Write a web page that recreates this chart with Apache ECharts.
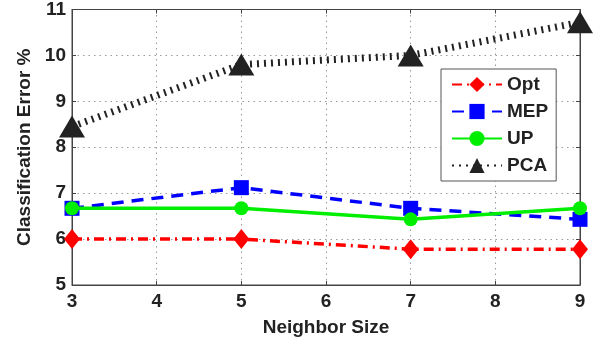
<!DOCTYPE html>
<html><head><meta charset="utf-8">
<script src="https://cdn.jsdelivr.net/npm/echarts@6/dist/echarts.min.js"></script>
<style>html,body{margin:0;padding:0;background:#fff}#c{width:607px;height:342px}</style>
</head><body><div id="c"></div>
<script>
const xValues = [3, 5, 7, 9];
const opt = [6.0, 6.0, 5.78, 5.78];
const mep = [6.67, 7.12, 6.67, 6.43];
const up = [6.67, 6.67, 6.43, 6.67];
const pca = [8.45, 9.8, 10.0, 10.72];
const xTicks = [3, 4, 5, 6, 7, 8, 9];
const yTicks = [5, 6, 7, 8, 9, 10, 11];

const pair = arr => xValues.map((x, i) => [x, arr[i]]);
const font = 'Liberation Sans, Arial, sans-serif';
const chart = echarts.init(document.getElementById('c'));
const labelStyle = {fontFamily: font, fontWeight: 'bold', fontSize: 19, color: '#222'};
const titleStyle = {fontFamily: font, fontWeight: 'bold', fontSize: 19, color: '#222'};
chart.setOption({
  animation: false,
  grid: {left: 72, right: 27, top: 7, bottom: 56, show: true, borderColor: '#444', borderWidth: 1},
  legend: {
    left: 441, top: 69, width: 119, orient: 'vertical',
    backgroundColor: '#fff', borderColor: '#555', borderWidth: 1,
    padding: [6, 8, 6, 10], itemGap: 8, itemWidth: 50, itemHeight: 19,
    textStyle: {fontFamily: font, fontWeight: 'bold', fontSize: 19, color: '#222'},
    data: ['Opt', 'MEP', 'UP', 'PCA']
  },
  xAxis: [{
    type: 'value', min: 3, max: 9, interval: 1,
    name: 'Neighbor Size', nameLocation: 'middle', nameGap: 33,
    nameTextStyle: titleStyle,
    axisLine: {show: true, lineStyle: {color: '#444'}},
    axisTick: {show: true, inside: true, length: 4, lineStyle: {color: '#444'}},
    axisLabel: Object.assign({margin: 7, formatter: v => xTicks.includes(v) ? String(v) : ''}, labelStyle),
    splitLine: {show: true, lineStyle: {type: [1.5, 4], color: '#999'}}
  }, {
    type: 'value', min: 3, max: 9, interval: 1, position: 'top',
    axisLine: {show: true, lineStyle: {color: '#444'}},
    axisTick: {show: true, inside: true, length: 4, lineStyle: {color: '#444'}},
    axisLabel: {show: false}, splitLine: {show: false}
  }],
  yAxis: [{
    type: 'value', min: 5, max: 11, interval: 1,
    name: 'Classification Error %', nameLocation: 'middle', nameGap: 38,
    nameTextStyle: titleStyle,
    axisLine: {show: true, lineStyle: {color: '#444'}},
    axisTick: {show: true, inside: true, length: 4, lineStyle: {color: '#444'}},
    axisLabel: Object.assign({margin: 6, formatter: v => yTicks.includes(v) ? String(v) : ''}, labelStyle),
    splitLine: {show: true, lineStyle: {type: [1.5, 4], color: '#999'}}
  }, {
    type: 'value', min: 5, max: 11, interval: 1, position: 'right',
    axisLine: {show: true, lineStyle: {color: '#444'}},
    axisTick: {show: true, inside: true, length: 4, lineStyle: {color: '#444'}},
    axisLabel: {show: false}, splitLine: {show: false}
  }],
  series: [
    {name: 'PCA', type: 'line', data: pair(pca), symbol: 'triangle', symbolSize: [26, 22],
     lineStyle: {color: '#222', width: 7, type: [2, 5]}, itemStyle: {color: '#222'}, z: 2},
    {name: 'MEP', type: 'line', data: pair(mep), symbol: 'rect', symbolSize: 15,
     lineStyle: {color: '#0000ff', width: 3.5, type: [12, 8]}, itemStyle: {color: '#0000ff'}, z: 3},
    {name: 'UP', type: 'line', data: pair(up), symbol: 'circle', symbolSize: 14,
     lineStyle: {color: '#00ee00', width: 3.5, type: 'solid'}, itemStyle: {color: '#00ee00'}, z: 4},
    {name: 'Opt', type: 'line', data: pair(opt), symbol: 'diamond', symbolSize: [16, 20],
     lineStyle: {color: '#ff0000', width: 3.5, type: [10, 5, 2, 5]}, itemStyle: {color: '#ff0000'}, z: 5}
  ]
});
</script></body></html>
